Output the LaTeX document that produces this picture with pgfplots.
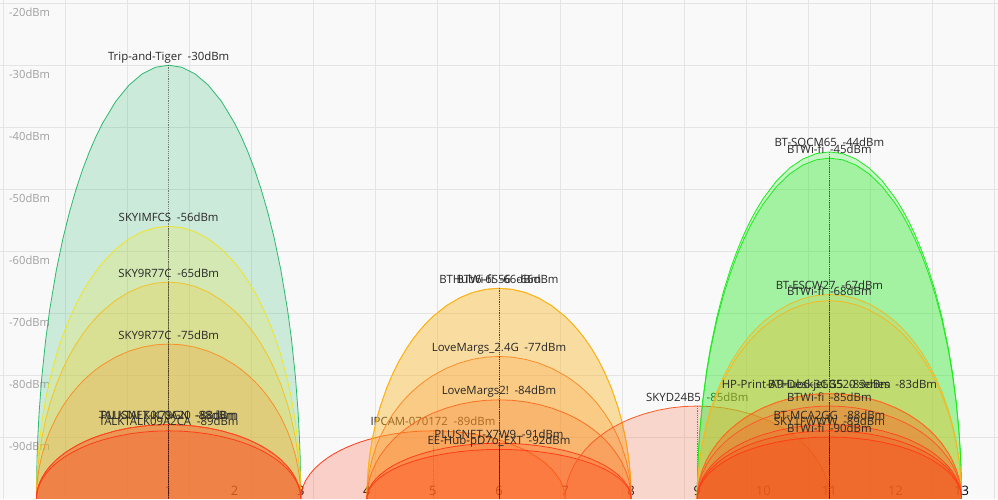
\documentclass[border=0pt]{standalone}
\usepackage{fontspec}
\setmainfont{Open Sans}
\usepackage{pgfplots}
\usepackage{pgfplotstable}
\pgfplotsset{compat=1.18}
\pgfplotsset{
  layers/labelsontop/.define layer set={
    axis background,axis grid,axis ticks,axis lines,main,axis tick labels,axis descriptions,axis foreground
  }{},
}

\definecolor{bg}{RGB}{249,249,249}
\definecolor{gridc}{RGB}{228,228,228}
\definecolor{txt}{RGB}{40,40,40}
\definecolor{tickc}{RGB}{160,160,160}
\definecolor{s30}{RGB}{45,185,110}
\definecolor{s44}{RGB}{30,235,30}
\definecolor{s56}{RGB}{240,228,40}
\definecolor{s65}{RGB}{242,195,40}
\definecolor{s66}{RGB}{252,180,25}
\definecolor{s67}{RGB}{242,185,35}
\definecolor{s75}{RGB}{248,145,40}
\definecolor{s77}{RGB}{250,140,40}
\definecolor{s83}{RGB}{252,110,35}
\definecolor{s85}{RGB}{252,90,40}
\definecolor{s88}{RGB}{255,70,30}
\definecolor{s90}{RGB}{255,60,22}

% unit half-ellipse used as the footprint of one network
\pgfplotstableread{
u v
-1 -0.05
-1 0
-0.999 0.04471
-0.995 0.09987
-0.99 0.14107
-0.98 0.19900
-0.96 0.28000
-0.93 0.36755
-0.9 0.43589
-0.85 0.52678
-0.8 0.6
-0.75 0.66144
-0.7 0.71414
-0.65 0.75993
-0.6 0.8
-0.55 0.83516
-0.5 0.86603
-0.4 0.91652
-0.3 0.95394
-0.2 0.97980
-0.1 0.99499
0 1
0.1 0.99499
0.2 0.97980
0.3 0.95394
0.4 0.91652
0.5 0.86603
0.55 0.83516
0.6 0.8
0.65 0.75993
0.7 0.71414
0.75 0.66144
0.8 0.6
0.85 0.52678
0.9 0.43589
0.93 0.36755
0.96 0.28000
0.98 0.19900
0.99 0.14107
0.995 0.09987
0.999 0.04471
1 0
1 -0.05
}\shape

\newcommand{\net}[4]{%
 \addplot[draw=#3, line width=0.8pt, fill=#3, fill opacity=0.22]
   table[x expr=2*\thisrow{u}+#1, y expr=-100+(#2+100)*\thisrow{v}] {\shape} -- cycle;
 \addplot[black, opacity=0.45, line width=0.6pt, dash pattern=on 1.2pt off 1pt]
   coordinates {(#1,#2) (#1,-100)};
 \node[text=txt, anchor=base, inner sep=0pt, font=\fontsize{11.4}{13}\selectfont]
   at (axis cs:#1,#2) [yshift=5pt] {#4\hspace{0.5em}#2dBm};
}

\begin{document}
\begin{tikzpicture}
\begin{axis}[
  set layers=labelsontop,
  scale only axis,
  width=998pt, height=499pt,
  xmin=-1.545, xmax=13.545,
  ymin=-100, ymax=-19.56,
  axis background/.style={fill=bg},
  axis line style={draw=none},
  major tick length=0pt,
  xtick={-1.5,-0.5626,0.3748,1.3122,2.2496,3.187,4.1244,5.0618,5.9992,6.9366,7.874,8.8114,9.7488,10.6862,11.6236,12.561,13.4984},
  xticklabels={},
  extra x ticks={1,2,3,4,5,6,7,8,9,10,11,12,13},
  extra x tick labels={1,2,3,4,5,6,7,8,9,10,11,12,13},
  extra x tick style={grid=none},
  xticklabel style={anchor=base, inner sep=0pt, yshift=3pt, text=black, font=\fontsize{13}{15}\selectfont},
  ytick={-90,-80,-70,-60,-50,-40,-30,-20},
  yticklabels={-90dBm,-80dBm,-70dBm,-60dBm,-50dBm,-40dBm,-30dBm,-20dBm},
  yticklabel style={anchor=base west, inner sep=0pt, xshift=8.5pt, yshift=-13pt, text=tickc, font=\fontsize{11.2}{13}\selectfont},
  xmajorgrids, ymajorgrids,
  major grid style={gridc, line width=0.9pt},
  /pgf/number format/assume math mode=true,
]
% channel 1
\net{1}{-30}{s30}{Trip-and-Tiger}
\net{1}{-56}{s56}{SKYIMFCS}
\net{1}{-65}{s65}{SKY9R77C}
\net{1}{-75}{s75}{SKY9R77C}
\net{1}{-88}{s88}{TALKTALK0C0A20}
\net{1}{-88}{s88}{PLUSNET-K79GN}
\net{1}{-89}{s90}{TALKTALK09A2CA}
% channel 5
\net{5}{-89}{s90}{IPCAM-070172}
% channel 6
\net{6}{-66}{s66}{BTHub6-6S56}
\net{6}{-66}{s66}{BTWi-fi}
\net{6}{-77}{s77}{LoveMargs\_2.4G}
\net{6}{-84}{s83}{LoveMargs2!}
\net{6}{-91}{s90}{PLUSNET-X7W9}
\net{6}{-92}{s90}{EE-Hub-pD7o\_EXT}
% channel 9
\net{9}{-85}{s85}{SKYD24B5}
% channel 11
\net{11}{-44}{s44}{BT-SQCM65}
\net{11}{-45}{s44}{BTWi-fi}
\net{11}{-67}{s67}{BT-ESCW27}
\net{11}{-68}{s67}{BTWi-fi}
\net{11}{-83}{s83}{HP-Print-A9-Deskjet 3520 series}
\net{11}{-83}{s83}{BTHub6-3GG5}
\net{11}{-85}{s85}{BTWi-fi}
\net{11}{-88}{s88}{BT-MCA2GG}
\net{11}{-89}{s90}{SKY1FWWW}
\net{11}{-90}{s90}{BTWi-fi}
\end{axis}
\end{tikzpicture}
\end{document}
